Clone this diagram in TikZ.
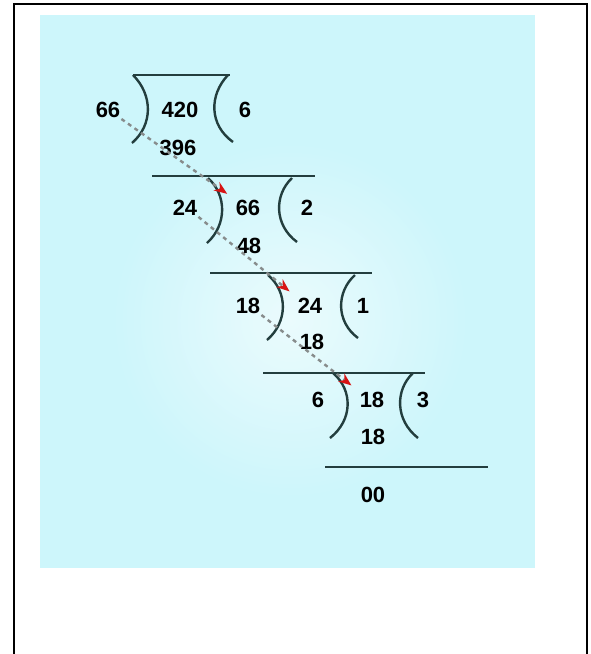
\documentclass[tikz,border=0pt]{standalone}
\usepackage{fontspec}
\setmainfont{Liberation Sans}
\usetikzlibrary{arrows.meta, calc}
\definecolor{bgCyan}{RGB}{205,246,251}
\definecolor{barTeal}{RGB}{35,62,62}
\definecolor{dashGray}{RGB}{135,140,140}
\definecolor{tipRed}{RGB}{215,20,20}

\begin{document}
\begin{tikzpicture}[
    x=1pt, y=-1pt,
    num/.style={font=\fontsize{22}{26}\selectfont\bfseries, inner sep=1pt},
    bar/.style={draw=barTeal, line width=2.6pt},
    brk/.style={draw=barTeal, line width=2.4pt},
    carry/.style={draw=dashGray, dash pattern=on 4pt off 4pt, line width=2.4pt,
                  shorten >=9pt, -{Stealth[length=13pt, width=10pt, color=tipRed]}}
]
    \useasboundingbox (0,0) rectangle (591,654);

    % Background and frame
    \fill[bgCyan] (40,15) rectangle (535,568);
    \shade[inner color=white, outer color=bgCyan, opacity=0.6] (110,140) rectangle (470,500);
    \draw[line width=2.2pt] (14,680) -- (14,4) -- (587,4) -- (587,680);

    % Row 1
    \node[num] (dvs1) at (108,110) {66};
    \node[num] (dvd1) at (180,110) {420};
    \node[num] (quo1) at (245,110) {6};
    \node[num] (sub1) at (178,148) {396};
    \draw[bar] (133,75) -- (230,75);
    \draw[brk] (133,75) .. controls (153,95) and (153,125) .. (132,143);
    \draw[brk] (228,75) .. controls (209,95) and (209,125) .. (233,142);

    % Row 2
    \draw[bar] (152,176) -- (315,176);
    \node[num] (dvs2) at (185,208) {24};
    \node[num] (dvd2) at (248,208) {66};
    \node[num] (quo2) at (307,208) {2};
    \node[num] (sub2) at (249,246) {48};
    \draw[brk] (208,178) .. controls (227,195) and (227,225) .. (207,243);
    \draw[brk] (292,178) .. controls (274,195) and (274,225) .. (297,242);

    % Row 3
    \draw[bar] (210,273) -- (372,273);
    \node[num] (dvs3) at (248,306) {18};
    \node[num] (dvd3) at (310,306) {24};
    \node[num] (quo3) at (363,306) {1};
    \node[num] (sub3) at (312,342) {18};
    \draw[brk] (268,275) .. controls (288,292) and (288,322) .. (267,340);
    \draw[brk] (355,275) .. controls (336,292) and (336,322) .. (358,338);

    % Row 4
    \draw[bar] (263,373) -- (425,373);
    \node[num] (dvs4) at (318,400) {6};
    \node[num] (dvd4) at (372,400) {18};
    \node[num] (quo4) at (423,400) {3};
    \node[num] (sub4) at (373,437) {18};
    \draw[brk] (333,373) .. controls (353,390) and (353,420) .. (330,438);
    \draw[brk] (413,373) .. controls (395,390) and (395,420) .. (418,438);

    % Remainder
    \draw[bar] (325,467) -- (488,467);
    \node[num] (rest) at (373,495) {00};

    % Divisor becomes next dividend
    \draw[carry] (dvs1.south east) -- (dvd2.north west);
    \draw[carry] (dvs2.south east) -- (dvd3.north west);
    \draw[carry] (dvs3.south east) -- (dvd4.north west);
\end{tikzpicture}
\end{document}
